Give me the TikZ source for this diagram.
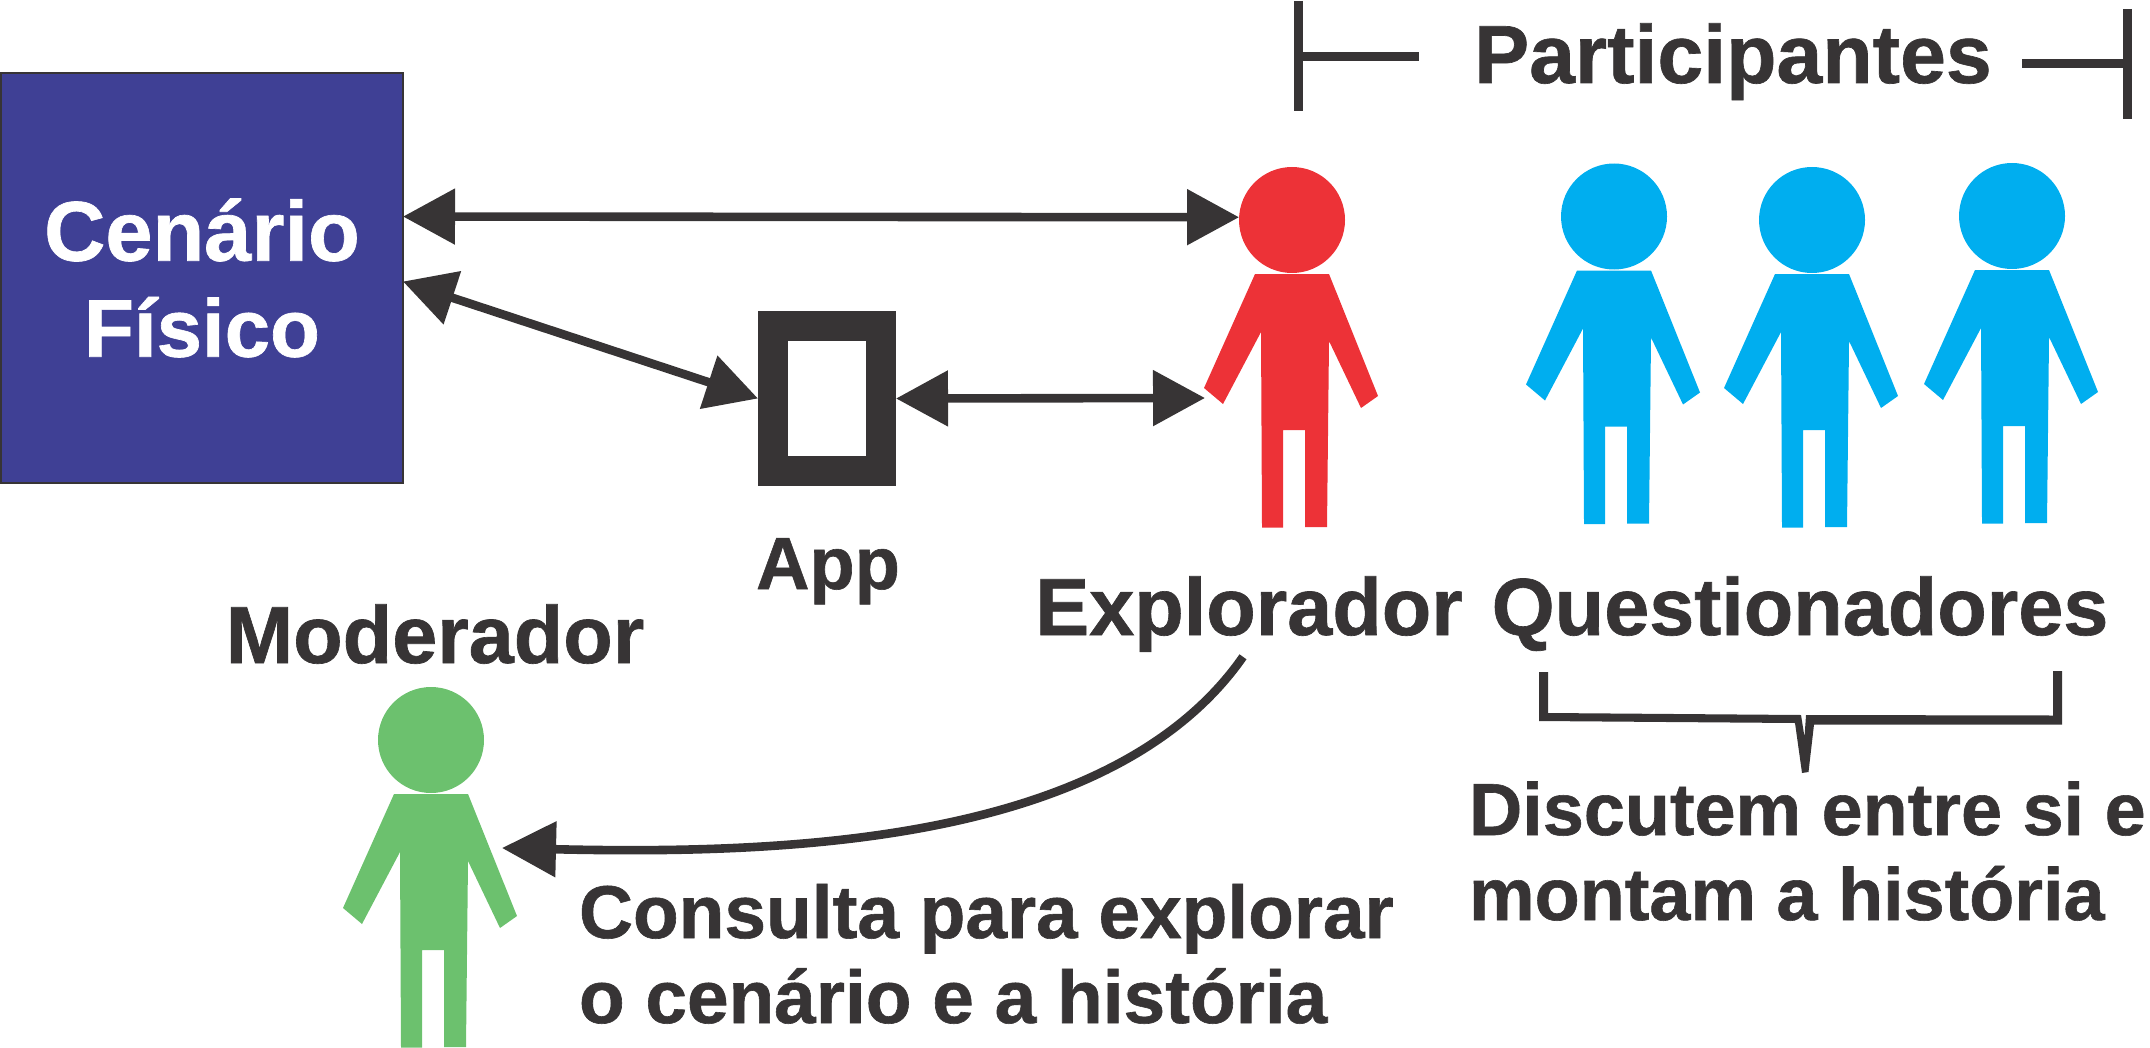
\documentclass[tikz,border=0pt]{standalone}
\usepackage{fontspec}
\setmainfont{Liberation Sans}[BoldFeatures={FakeBold=0.8}]
\usetikzlibrary{arrows.meta}
\definecolor{escuro}{HTML}{373435}
\definecolor{roxo}{HTML}{3F4095}
\definecolor{vermelho}{HTML}{ED3237}
\definecolor{azul}{HTML}{00AEEF}
\definecolor{verde}{HTML}{6CC16E}
\tikzset{
  rotulo/.style={inner sep=2.5pt, outer sep=0pt, text=escuro, font=\fontsize{40.5}{42.5}\selectfont\bfseries},
  rotulomenor/.style={rotulo, anchor=base west, inner sep=0pt, font=\fontsize{37.4}{42.5}\selectfont\bfseries},
  rotulodireita/.style={rotulomenor, font=\fontsize{36.9}{42.5}\selectfont\bfseries},
  duplaseta/.style={draw=escuro, line width=4.3pt, {Triangle[length=26pt,width=27pt]}-{Triangle[length=26pt,width=27pt]}},
  traco/.style={draw=escuro, line width=4.5pt},
  pics/pessoa/.style={code={
    \node[circle, fill=#1, minimum size=53pt, inner sep=0pt, outer sep=0pt] (-cabeca) at (0,0) {};
    \fill[#1] (-37,54) -- (37,54) -- (86,176) -- (69,188) -- (37,121) -- (35,307) -- (13,307)
      -- (13,210) -- (-9,210) -- (-9,307.5) -- (-30,307.5) -- (-31,112) -- (-69,184) -- (-88,168) -- cycle;
  }}
}
\begin{document}
\begin{tikzpicture}[x=0.5pt, y=-0.5pt]
  \useasboundingbox (0,0) rectangle (2150,1048);

  % Physical scenario and the tablet
  \node[draw=escuro, fill=roxo, line width=0.6pt, outer sep=0pt, minimum width=201pt, minimum height=205pt,
    align=center, text=white, font=\fontsize{42.4}{48}\selectfont\bfseries] (cenario) at (202,278)
    {Cenário\\{\fontsize{40.8}{48}\selectfont Físico}};
  \node[draw=escuro, fill=white, line width=15pt, minimum width=54pt, minimum height=72.5pt, inner sep=0pt] (app) at (827,398.5) {};

  % People
  \pic (explorador) at (1292,220) {pessoa=vermelho};
  \foreach \nome/\x/\y in {q1/1614/216.5, q2/1812/220, q3/2012/216} {
    \pic (\nome) at (\x,\y) {pessoa=azul};
  }
  \pic (moderador) at (431,740) {pessoa=verde};

  % Labels
  \node[rotulo, anchor=base, font=\fontsize{41.2}{42.5}\selectfont\bfseries] (participantes) at (1733,83) {Participantes};
  \node[rotulo, anchor=base, font=\fontsize{37}{40}\selectfont\bfseries] (rotuloapp) at (828,589) {App};
  \node[rotulo, anchor=base] (rotulomod) at (435,663) {Moderador};
  \node[rotulo, anchor=base] (rotuloexp) at (1249,635) {Explorador};
  \node[rotulo, anchor=base] (rotuloque) at (1800,635) {Questionadores};
  \node[rotulomenor] (consulta) at (579,938) {Consulta para explorar};
  \node[rotulomenor] (consulta2) at (579,1023) {o cenário e a história};
  \node[rotulodireita] (discutem) at (1469,835) {Discutem entre si e};
  \node[rotulodireita] (discutem2) at (1469,920) {montam a história};

  % Double arrows
  \draw[duplaseta] (cenario.17.6) -- (explorador-cabeca.177);
  \draw[duplaseta] (cenario.-1) -- (app.west);
  \coordinate (bracoexp) at (1205,398);
  \draw[duplaseta] (app.east) -- (bracoexp);

  % Curved arrow to the moderator
  \coordinate (bracomod) at (502,848);
  \draw[draw=escuro, line width=4.3pt, -{Triangle[length=27pt,width=27pt]}] (rotuloexp.262)
    .. controls (1115,840) and (800,855) .. (bracomod);

  % Participantes marks
  \coordinate (pe1) at (1298,1);
  \coordinate (pe2) at (1298,111);
  \coordinate (pe3) at (1298,56.5);
  \coordinate (pe4) at (1419,56.5);
  \coordinate (pd1) at (2127.5,9);
  \coordinate (pd2) at (2127.5,119);
  \coordinate (pd3) at (2127.5,63.5);
  \coordinate (pd4) at (2022,63.5);
  \draw[traco] (pe1) -- (pe2) (pe3) -- (pe4);
  \draw[traco] (pd1) -- (pd2) (pd3) -- (pd4);

  % Bracket under Questionadores
  \fill[escuro] (1539,672) -- (1548,672) -- (1548,713) -- (1801,715) -- (1804.5,737) -- (1806,715)
    -- (2053,715.5) -- (2053,671) -- (2062,671) -- (2062,724.5) -- (1814,724.5) -- (1808.5,772)
    -- (1802,773) -- (1795,723) -- (1539,721) -- cycle;
\end{tikzpicture}
\end{document}
